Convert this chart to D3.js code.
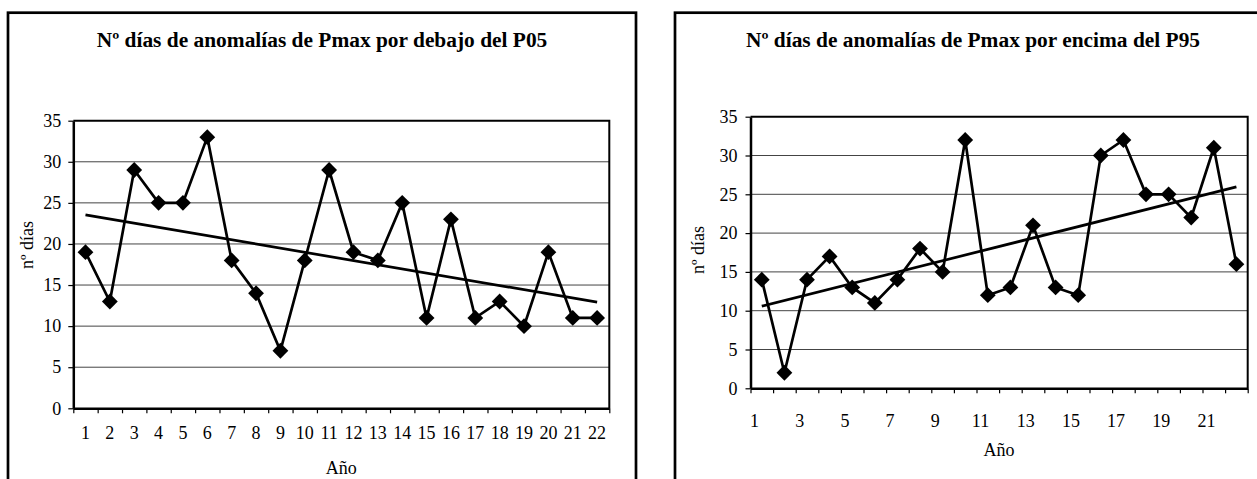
<!DOCTYPE html>
<html><head><meta charset="utf-8">
<script src="https://cdn.jsdelivr.net/npm/d3@7"></script>
<style>
body{margin:0;background:#fff}
svg{display:block}
text{font-family:"Liberation Serif","Times New Roman",serif;fill:#000}
</style>
</head><body>
<svg id="c" width="1257" height="479"></svg>
<script>
// ---- data ----
const categories = [1,2,3,4,5,6,7,8,9,10,11,12,13,14,15,16,17,18,19,20,21,22];
const belowP05 = [19,13,29,25,25,33,18,14,7,18,29,19,18,25,11,23,11,13,10,19,11,11];
const aboveP95 = [14,2,14,17,13,11,14,18,15,32,12,13,21,13,12,30,32,25,25,22,31,16];
const yTicks = [0,5,10,15,20,25,30,35];
const leftXLabels = [1,2,3,4,5,6,7,8,9,10,11,12,13,14,15,16,17,18,19,20,21,22];
const rightXLabels = [1,3,5,7,9,11,13,15,17,19,21];
const titleLeft = "Nº días de anomalías de Pmax por debajo del P05";
const titleRight = "Nº días de anomalías de Pmax por encima del P95";
const yTitle = "nº días";
const xTitle = "Año";

// ---- layout ----
const charts = [
  {values: belowP05, title: titleLeft, labels: leftXLabels, labelOnTick: false,
   frame:{x:8,y:12.7,w:628,h:520}, plot:{l:73.3,r:609.3,t:120.7,b:408.3},
   titleX:322, titleY:47, yTitleX:27, yTitleY:245, tickLabelY:439, xTitleY:474, yPad:7},
  {values: aboveP95, title: titleRight, labels: rightXLabels, labelOnTick: true,
   frame:{x:675,y:12.7,w:700,h:520}, plot:{l:750.5,r:1247.7,t:116.7,b:388.3},
   titleX:973, titleY:47, yTitleX:698, yTitleY:250, tickLabelY:427, xTitleY:456, yPad:8}
];

const svg = d3.select("#c");

function linreg(xs, ys){
  const mx = d3.mean(xs), my = d3.mean(ys);
  let sxy=0, sxx=0;
  xs.forEach((x,i)=>{sxy+=(x-mx)*(ys[i]-my); sxx+=(x-mx)*(x-mx);});
  const b = sxy/sxx; return {a: my-b*mx, b};
}

charts.forEach(ch=>{
  const g = svg.append("g");
  const p = ch.plot;
  g.append("rect").attr("x",ch.frame.x).attr("y",ch.frame.y).attr("width",ch.frame.w).attr("height",ch.frame.h)
    .attr("fill","#fff").attr("stroke","#000").attr("stroke-width",2.7);

  const x = d3.scaleLinear().domain([0, categories.length]).range([p.l, p.r]);
  const y = d3.scaleLinear().domain([0, 35]).range([p.b, p.t]);
  const cx = i => x(i + 0.5);

  // gridlines
  g.append("g").selectAll("line").data(yTicks.filter(t=>t>0 && t<35)).join("line")
    .attr("x1",p.l).attr("x2",p.r).attr("y1",d=>y(d)).attr("y2",d=>y(d))
    .attr("stroke","#444").attr("stroke-width",1);

  // plot border (top/right)
  g.append("path").attr("d",`M${p.l},${p.t}H${p.r}V${p.b}`).attr("fill","none").attr("stroke","#000").attr("stroke-width",2);

  // y axis
  const ya = g.append("g").attr("transform",`translate(${p.l},0)`)
    .call(d3.axisLeft(y).tickValues(yTicks).tickSize(5).tickSizeOuter(0).tickPadding(ch.yPad));
  ya.select(".domain").attr("stroke-width",2.5);
  ya.selectAll(".tick line").attr("stroke-width",1.2);
  ya.selectAll("text").style("font-size","18px").style("font-family","'Liberation Serif',serif");

  // x axis ticks
  const xa = g.append("g").attr("transform",`translate(0,${p.b})`)
    .call(d3.axisBottom(x).tickValues(d3.range(categories.length+1)).tickSize(5).tickSizeOuter(0).tickFormat(""));
  xa.select(".domain").attr("stroke-width",2.5);
  xa.selectAll(".tick line").attr("stroke-width",1.2);

  // x tick labels
  g.append("g").selectAll("text").data(ch.labels).join("text")
    .attr("x", d => ch.labelOnTick ? x(d-1) + 4 : cx(d-1))
    .attr("y", ch.tickLabelY).attr("text-anchor","middle").style("font-size","18px").text(d=>d);

  // titles
  g.append("text").attr("x",ch.titleX).attr("y",ch.titleY).attr("text-anchor","middle")
    .style("font-size","21.4px").style("font-weight","bold").text(ch.title);
  g.append("text").attr("x",(p.l+p.r)/2).attr("y",ch.xTitleY).attr("text-anchor","middle")
    .style("font-size","18px").text(xTitle);
  g.append("text").attr("transform",`translate(${ch.yTitleX},${ch.yTitleY}) rotate(-90)`)
    .attr("dy","0.35em").attr("text-anchor","middle").style("font-size","18px").text(yTitle);

  // trend line
  const r = linreg(categories, ch.values);
  g.append("line")
    .attr("x1",cx(0)).attr("y1",y(r.a + r.b*categories[0]))
    .attr("x2",cx(categories.length-1)).attr("y2",y(r.a + r.b*categories[categories.length-1]))
    .attr("stroke","#000").attr("stroke-width",2.7);

  // data line
  g.append("path").datum(ch.values)
    .attr("d", d3.line().x((d,i)=>cx(i)).y(d=>y(d)))
    .attr("fill","none").attr("stroke","#000").attr("stroke-width",2.7).attr("stroke-linejoin","miter");

  // markers
  g.append("g").selectAll("path").data(ch.values).join("path")
    .attr("transform",(d,i)=>`translate(${cx(i)},${y(d)}) rotate(45)`)
    .attr("d", d3.symbol(d3.symbolSquare, 125)())
    .attr("fill","#000");
});
</script>
</body></html>
